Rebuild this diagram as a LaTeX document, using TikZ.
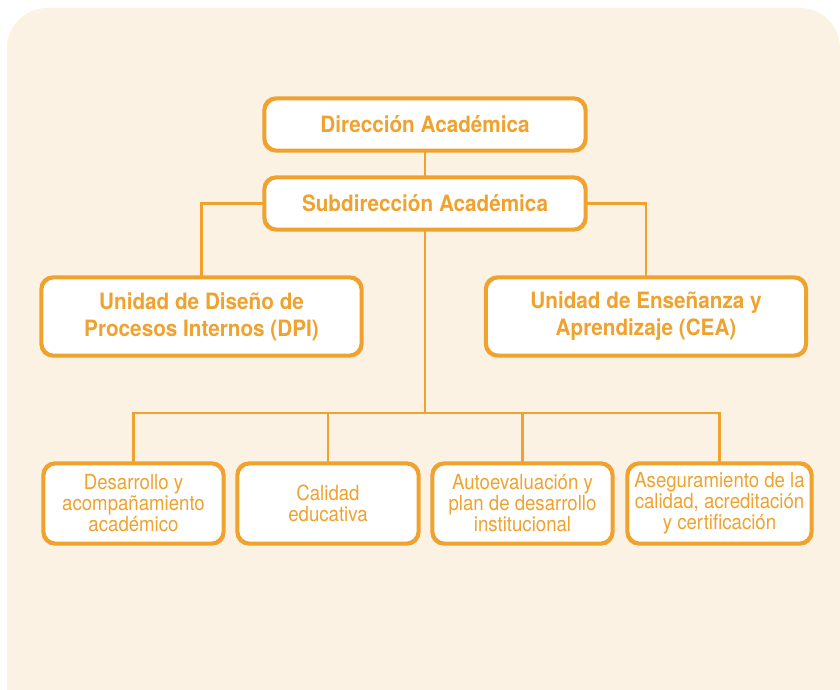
\documentclass[tikz,border=0pt]{standalone}
\usepackage{fontspec}
\setmainfont{TeX Gyre Heros}[FakeStretch=0.92]
\newfontfamily\areafont{TeX Gyre Heros}[FakeStretch=0.895]
\usepackage{tikz}
\usetikzlibrary{calc}

\definecolor{orgline}{HTML}{F0A22E}
\definecolor{bgcream}{HTML}{FCF2E4}

\begin{document}
\begin{tikzpicture}[x=1pt,y=-1pt,
    box/.style={draw=orgline,line width=2.6pt,fill=white,rounded corners=12pt,align=center,text=orgline,inner sep=0pt},
    head/.style={box,font=\fontsize{22.5}{26}\selectfont\bfseries},
    unit/.style={box,font=\fontsize{22.5}{27}\selectfont\bfseries,minimum width=319pt,minimum height=77pt},
    area/.style={box,font=\areafont\fontsize{20.8}{21}\selectfont,minimum height=79pt},
    link/.style={draw=orgline,line width=2.2pt}]

    \useasboundingbox (0,0) rectangle (840,690);
    \fill[bgcream] (840,690) -- (7,690) {[rounded corners=40pt] -- (7,8) -- (840,8)} -- cycle;

    \node (nDir) [head,minimum width=320pt,minimum height=51pt] at (425,124.5) {Dirección Académica};
    \node (nSub) [head,minimum width=320pt,minimum height=51pt] at (425,203.5) {Subdirección Académica};

    \node (nDPI) [unit] at (201.5,316.5) {Unidad de Diseño de\\Procesos Internos (DPI)};
    \node (nCEA) [unit] at (646,316.5) {Unidad de Enseñanza y\\Aprendizaje (CEA)};

    \node (nA1) [area,minimum width=179pt] at (133.5,503.5) {Desarrollo y\\acompañamiento\\académico};
    \node (nA2) [area,minimum width=180pt] at (328,503.5) {Calidad\\educativa};
    \node (nA3) [area,minimum width=179pt] at (522.5,503.5) {Autoevaluación y\\plan de desarrollo\\institucional};
    \node (nA4) [area,minimum width=183pt] at (719.5,503.5) {Aseguramiento de la\\calidad, acreditación\\y certificación};

    \coordinate (bus) at (427,413);

    \draw[link] (nDir.south) -- (nSub.north);
    \draw[link] (nSub.west) -| (nDPI.north);
    \draw[link] (nSub.east) -| (nCEA.north);
    \draw[link] (nSub.south) -- (nSub.south |- bus);
    \draw[link] (nA1.north) |- (nA4.north |- bus) -- (nA4.north);
    \draw[link] (nA2.north) -- (nA2.north |- bus);
    \draw[link] (nA3.north) -- (nA3.north |- bus);

    % boxes above the connectors
    \foreach \n in {nDir,nSub,nDPI,nCEA,nA1,nA2,nA3,nA4}
      \draw[draw=orgline,line width=2.6pt,rounded corners=12pt] (\n.north west) rectangle (\n.south east);
  \end{tikzpicture}
\end{document}
